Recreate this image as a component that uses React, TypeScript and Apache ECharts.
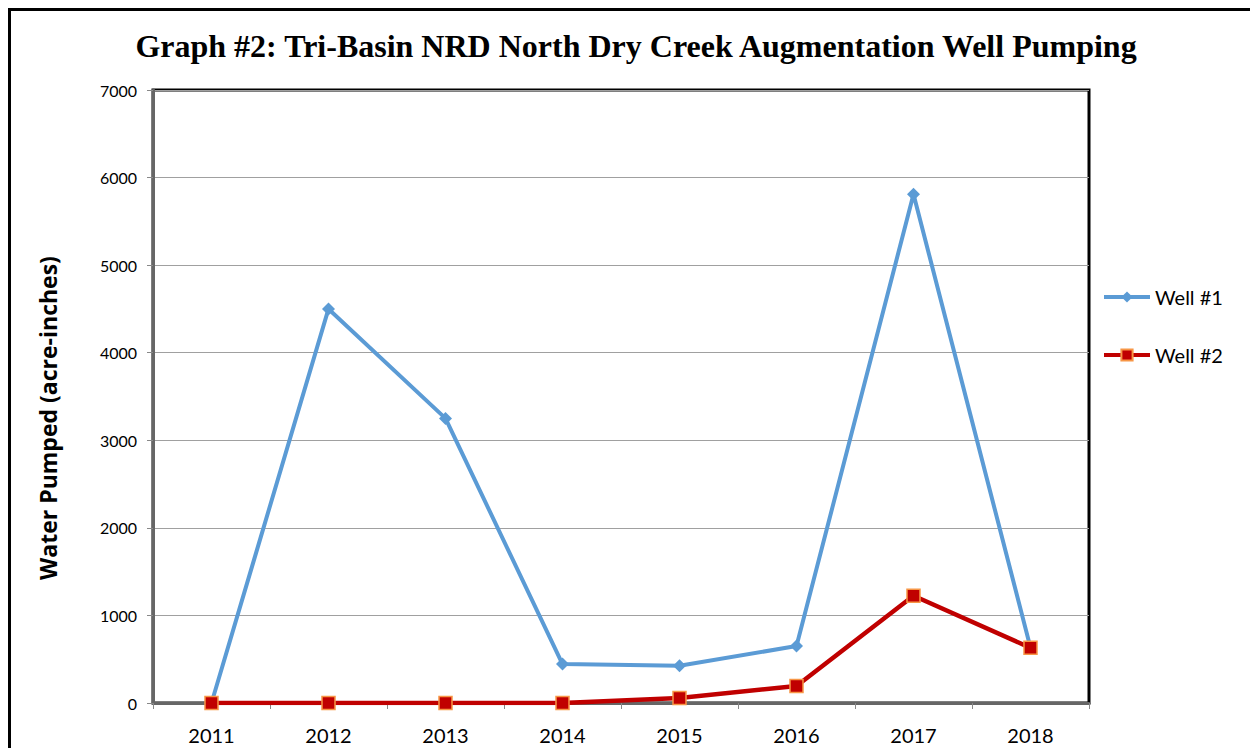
import React, { useEffect, useRef } from "react";
import * as echarts from "echarts";

const years = ["2011", "2012", "2013", "2014", "2015", "2016", "2017", "2018"];
const well1 = [0, 4500, 3250, 445, 425, 650, 5810, 630];
const well2 = [0, 0, 0, 0, 57, 195, 1225, 630];
const titleText = "Graph #2: Tri-Basin NRD North Dry Creek Augmentation Well Pumping";
const yAxisName = "Water Pumped (acre-inches)";

export default function App() {
  const ref = useRef<HTMLDivElement>(null);
  useEffect(() => {
    document.body.style.margin = "0";
    const chart = echarts.init(ref.current!, null, { renderer: "svg" });
    chart.setOption({
      animation: false,
      backgroundColor: "#ffffff",
      title: {
        text: titleText,
        left: 631,
        textAlign: "center",
        top: 25,
        textStyle: {
          fontFamily: "Liberation Serif",
          fontWeight: "bold",
          fontSize: 32,
          color: "#000",
        },
      },
      graphic: [
        {
          type: "rect",
          shape: { x: 9.5, y: 9.5, width: 1400, height: 900 },
          style: { fill: "none", stroke: "#000", lineWidth: 3 },
          silent: true,
        },
        {
          type: "text",
          x: 48,
          y: 418,
          rotation: Math.PI / 2,
          style: {
            text: yAxisName,
            fontFamily: "Open Sans",
            fontWeight: "bold",
            fontSize: 23,
            fill: "#000",
            align: "center",
            verticalAlign: "middle",
          },
          silent: true,
        },
      ],
      legend: {
        orient: "vertical",
        left: 1097,
        top: 282,
        itemGap: 38,
        itemWidth: 46,
        itemHeight: 14,
        lineStyle: { width: 4 },
        textStyle: { fontFamily: "Lato", fontSize: 20, color: "#000" },
        data: ["Well #1", "Well #2"],
      },
      grid: {
        left: 153,
        top: 90,
        width: 936,
        height: 613,
        show: true,
        borderColor: "#000",
        borderWidth: 3,
        backgroundColor: "transparent",
      },
      xAxis: {
        type: "category",
        data: years,
        boundaryGap: true,
        axisLine: { lineStyle: { color: "#666", width: 3 } },
        axisTick: { show: true, alignWithLabel: false, length: 6, lineStyle: { color: "#888", width: 1 } },
        axisLabel: { fontFamily: "Lato", fontSize: 20, color: "#000", margin: 22 },
      },
      yAxis: {
        type: "value",
        min: 0,
        max: 7000,
        interval: 1000,
        axisLine: { show: true, lineStyle: { color: "#666", width: 3 } },
        axisTick: { show: true, length: 6, lineStyle: { color: "#888", width: 1 } },
        axisLabel: {
          fontFamily: "Lato",
          fontSize: 16,
          color: "#000",
          margin: 16,
          formatter: (v: number) => String(v),
        },
        splitLine: { show: true, lineStyle: { color: "#a0a0a0", width: 1 } },
      },
      series: [
        {
          name: "Well #1",
          type: "line",
          data: well1,
          symbol: "diamond",
          symbolSize: 13,
          color: "#5B9BD5",
          lineStyle: { width: 4, color: "#5B9BD5" },
          itemStyle: { color: "#5B9BD5" },
          z: 2,
        },
        {
          name: "Well #2",
          type: "line",
          data: well2,
          symbol: "rect",
          symbolSize: 13,
          color: "#C00000",
          lineStyle: { width: 4.5, color: "#C00000" },
          itemStyle: { color: "#C00000", borderColor: "#F79646", borderWidth: 1.5 },
          z: 3,
        },
      ],
    });
    return () => chart.dispose();
  }, []);
  return <div ref={ref} style={{ width: 1250, height: 748 }} />;
}
